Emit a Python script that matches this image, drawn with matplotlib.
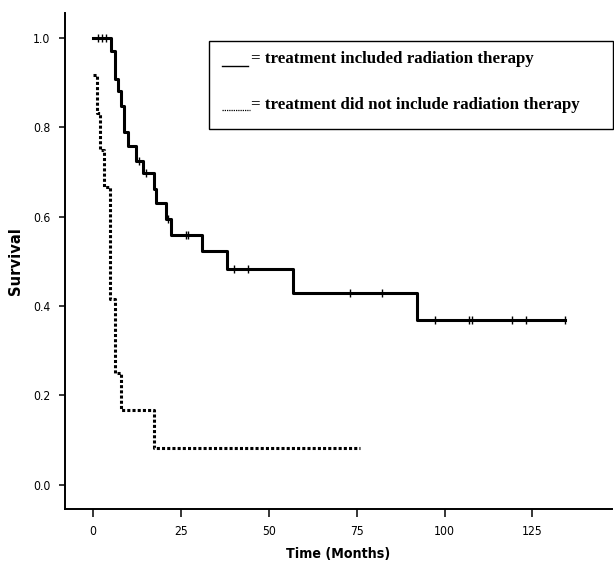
import numpy as np
import matplotlib
matplotlib.use("Agg")
import matplotlib.pyplot as plt
from matplotlib.patches import Rectangle
from matplotlib.lines import Line2D

# Kaplan-Meier steps
t_rt = [0, 5.1, 6.1, 7.0, 7.9, 8.9, 9.8, 12.2, 14.1, 17.2, 17.9, 20.6, 22.0,
        31.1, 38.0, 56.8, 92.1, 134.2]
s_rt = [1.0, 0.972, 0.908, 0.882, 0.849, 0.789, 0.759, 0.725, 0.698, 0.663,
        0.630, 0.595, 0.559, 0.523, 0.482, 0.430, 0.370, 0.370]
cens_rt = [1.5, 2.5, 3.7, 13.0, 14.9, 21.2, 26.4, 26.9, 40.2, 44.0, 73.1,
           82.1, 97.3, 107.0, 107.7, 119.1, 123.1, 134.2]

t_nrt = [0, 1.0, 2.0, 3.1, 4.8, 6.1, 7.9, 17.2, 75.9]
s_nrt = [0.917, 0.833, 0.75, 0.667, 0.417, 0.25, 0.167, 0.083, 0.083]

xticks = [0, 25, 50, 75, 100, 125]
yticks = [0.0, 0.2, 0.4, 0.6, 0.8, 1.0]
labels = ["= treatment included radiation therapy",
          "= treatment did not include radiation therapy"]

# narrow sans for the axes text
narrow = "DejaVu Sans"
stretch = "condensed"

fig = plt.figure(figsize=(6.14, 5.66), dpi=100)
ax = fig.add_axes([0.106, 0.100, 0.890, 0.877])

ax.step(t_rt, s_rt, where="post", color="black", lw=2.2)
ax.step(t_nrt, s_nrt, where="post", color="black", lw=2.2,
        linestyle=(0, (1, 0.7)))

# censor marks sit on the step at that time
idx = np.searchsorted(t_rt, cens_rt, side="right") - 1
ax.plot(cens_rt, np.array(s_rt)[idx], linestyle="none", marker="|",
        markersize=6, markeredgewidth=1.0, color="black")

ax.set_xlim(-8, 147.5)
ax.set_ylim(-0.055, 1.056)
ax.set_xticks(xticks)
ax.set_xticklabels([str(v) for v in xticks])
ax.set_yticks(yticks)
ax.set_yticklabels([f"{v:.1f}" for v in yticks])
for lab in ax.get_xticklabels() + ax.get_yticklabels():
    lab.set_family(narrow)
    lab.set_stretch(stretch)
    lab.set_fontsize(8.7)
ax.tick_params(axis="x", length=6, width=1.1, pad=5)
ax.tick_params(axis="y", length=4.5, width=1.1, pad=6)

for side in ["top", "right"]:
    ax.spines[side].set_visible(False)
for side in ["left", "bottom"]:
    ax.spines[side].set_linewidth(1.4)

ax.set_xlabel("Time (Months)", family=narrow, fontstretch=stretch,
              fontweight="bold", fontsize=10.2, labelpad=7)
ax.set_ylabel("Survival", family=narrow, fontstretch=stretch,
              fontweight="bold", fontsize=11.8, labelpad=7)

# legend box drawn by hand, as in the original
W, H = 614, 566
fig.add_artist(Rectangle((209 / W, 1 - 129 / H), (613 - 209) / W, 88 / H,
                         transform=fig.transFigure, facecolor="white",
                         edgecolor="black", lw=1.0))
fig.add_artist(Line2D([222 / W, 248 / W], [1 - 66 / H, 1 - 66 / H],
                      transform=fig.transFigure, color="black", lw=1.0))
fig.add_artist(Line2D([222 / W, 250 / W], [1 - 110 / H, 1 - 110 / H],
                      transform=fig.transFigure, color="black", lw=0.9,
                      linestyle=(0, (1, 0.8))))
fig.text(251 / W, 1 - 59 / H, labels[0], family="Liberation Serif",
         fontweight="bold", fontsize=12.2, va="center", ha="left")
fig.text(251 / W, 1 - 105 / H, labels[1], family="Liberation Serif",
         fontweight="bold", fontsize=12.2, va="center", ha="left")

fig.savefig("out.png", dpi=100)
